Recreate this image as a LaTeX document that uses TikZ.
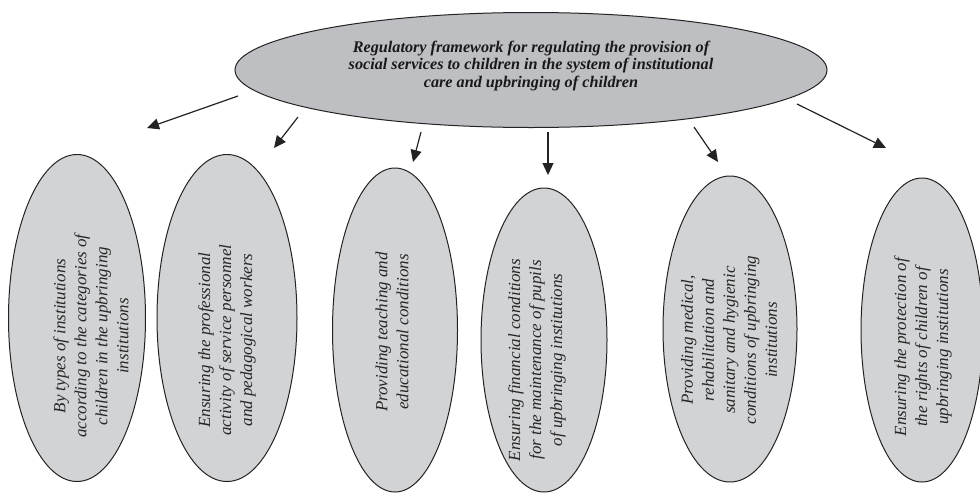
\documentclass[tikz,border=0pt]{standalone}
\usepackage{fontspec}
\setmainfont{Liberation Serif}
\usetikzlibrary{shapes.geometric,arrows.meta}
\definecolor{topfill}{RGB}{190,191,195}
\definecolor{subfill}{RGB}{210,211,213}
\definecolor{edge}{RGB}{35,35,35}
\begin{document}
\begin{tikzpicture}[x=1pt,y=-1pt,
  oval/.style={ellipse, draw=edge, line width=1pt, inner sep=0pt},
  sub/.style={oval, fill=subfill},
  subtext/.style={rotate=90, align=center, inner sep=0pt, text=black!85,
    font=\fontsize{17}{21}\selectfont\itshape},
  roottext/.style={align=center, inner sep=0pt, text=black!90,
    font=\fontsize{16.2}{17.2}\selectfont\bfseries\itshape},
  arr/.style={-{Triangle[length=12pt,width=11pt]}, line width=1.2pt, draw=edge}]
\useasboundingbox (0,0) rectangle (980,493);

% top ellipse
\node[oval, fill=topfill, minimum width=592pt, minimum height=115pt] (root) at (531,70) {};
\node[roottext] (rt) at (531,66) {Regulatory framework for regulating the provision of\\
social services to children in the system of institutional\\
care and upbringing of children};

% lower ellipses
\node[sub, minimum width=137pt, minimum height=327pt] (e1) at (77,318) {};
\node[sub, minimum width=140pt, minimum height=327pt] (e2) at (227,318) {};
\node[sub, minimum width=125pt, minimum height=324pt] (e3) at (395,330) {};
\node[sub, minimum width=126pt, minimum height=304pt] (e4) at (544,340) {};
\node[sub, minimum width=134pt, minimum height=306pt] (e5) at (730,329) {};
\node[sub, minimum width=122pt, minimum height=304pt] (e6) at (922,330) {};

\node[subtext] (t1) at (91,336) {By types of institutions\\according to the categories of\\children in the upbringing\\institutions};
\node[subtext] (t2) at (227,340) {Ensuring the professional\\activity of service personnel\\and pedagogical workers};
\node[subtext] (t3) at (392,332) {Providing teaching and\\educational conditions};
\node[subtext] (t4) at (537,360) {Ensuring financial conditions\\for the maintenance of pupils\\of upbringing institutions};
\node[subtext] (t5) at (729,340) {Providing medical,\\rehabilitation and\\sanitary and hygienic\\conditions of upbringing\\institutions};
\node[subtext] (t6) at (923,347) {Ensuring the protection of\\the rights of children of\\upbringing institutions};

% arrow ends
\coordinate (s1) at (238,96);  \coordinate (d1) at (147,128);
\coordinate (s2) at (298,117); \coordinate (d2) at (274,148);
\coordinate (s3) at (421,132); \coordinate (d3) at (413,162);
\coordinate (s4) at (548,132); \coordinate (d4) at (548,175);
\coordinate (s5) at (694,127); \coordinate (d5) at (718,162);
\coordinate (s6) at (797,104); \coordinate (d6) at (886,148);

\foreach \i in {1,...,6} \draw[arr] (s\i) -- (d\i);
\end{tikzpicture}
\end{document}
